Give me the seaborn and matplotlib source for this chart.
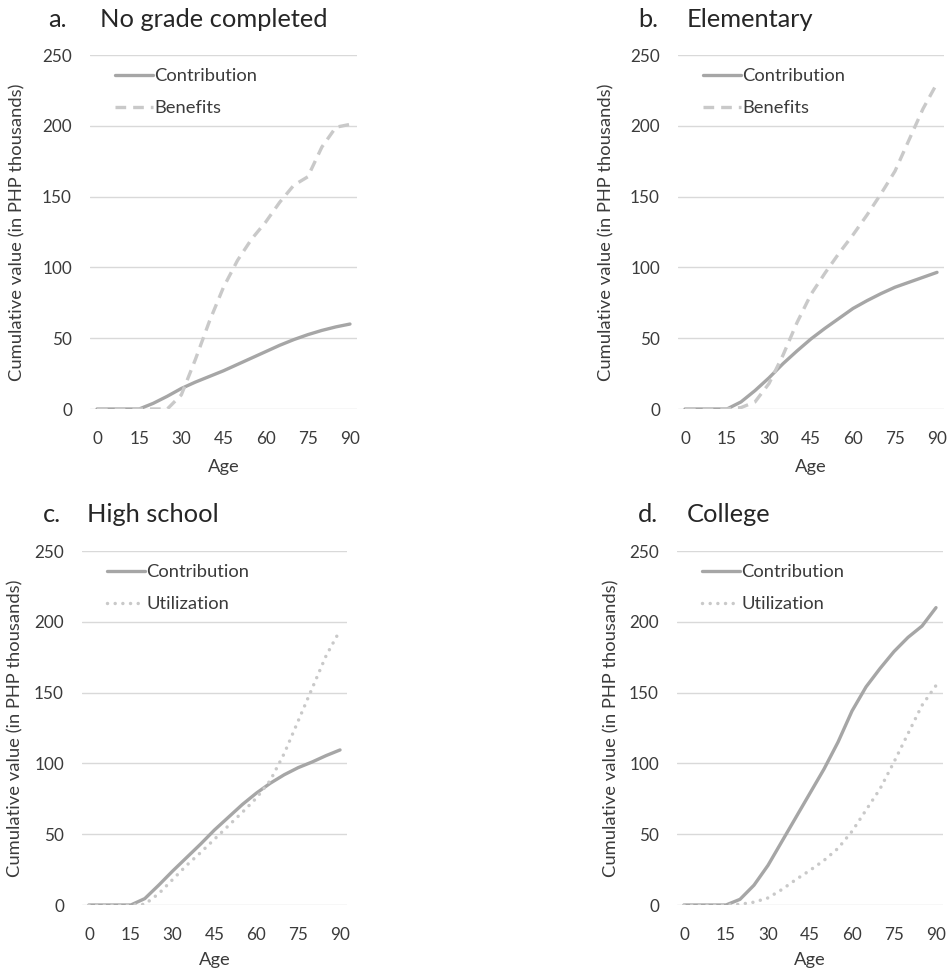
import matplotlib
matplotlib.use("Agg")
import matplotlib.pyplot as plt
import seaborn as sns
import pandas as pd

# Ages (years), one point every 5 years
ages = [0, 5, 10, 15, 20, 25, 30, 35, 40, 45, 50, 55, 60, 65, 70, 75, 80, 85, 90]
age_ticks = [0, 15, 30, 45, 60, 75, 90]
value_ticks = [0, 50, 100, 150, 200, 250]

# Cumulative values in PHP thousands
none_contribution = [0, 0, 0, 0, 4, 9, 14.5, 19, 23, 27, 31.5, 36, 40.5, 45, 49, 52.5, 55.5, 58, 60]
none_benefits = [0, 0, 0, 0, 0, 0, 10, 35, 62, 86, 105, 120, 132, 146, 158, 164, 185, 199, 201]

elem_contribution = [0, 0, 0, 0, 5, 13, 22, 32, 41, 49.5, 57, 64, 71, 76.5, 81.5, 86, 89.5, 93, 96.5]
elem_benefits = [0, 0, 0, 0, 1, 5, 18, 38, 61, 81, 96, 110, 123, 137, 152, 168, 190, 212, 230]

hs_contribution = [0, 0, 0, 0, 4.5, 14, 24, 33.5, 43, 53, 62, 71, 79, 86, 92, 97, 101, 105.5, 109.5]
hs_utilization = [0, 0, 0, 0, 0.5, 8, 18, 28, 37, 46.5, 56, 65.5, 75.5, 88, 107, 130, 153, 176, 194]

col_contribution = [0, 0, 0, 0, 4, 14, 28, 45, 62, 79, 96, 115, 137, 154, 167, 179, 189, 197, 210]
col_utilization = [0, 0, 0, 0, 0.5, 2, 5, 11, 18, 24.5, 31.5, 40, 52, 67, 82, 101, 121, 141, 155]

panel_letters = ["a.", "b.", "c.", "d."]
panel_titles = ["No grade completed", "Elementary", "High school", "College"]
series_names = [("Contribution", "Benefits"), ("Contribution", "Benefits"),
                ("Contribution", "Utilization"), ("Contribution", "Utilization")]
series_values = [(none_contribution, none_benefits), (elem_contribution, elem_benefits),
                 (hs_contribution, hs_utilization), (col_contribution, col_utilization)]

sns.set_style("white")
plt.rcParams["font.family"] = ["Lato", "DejaVu Sans"]

W, H = 950, 973
fig = plt.figure(figsize=(W / 100, H / 100), dpi=100)

# axes boxes in pixels: left, top, width, height
boxes = [(90, 55, 267, 354), (678, 55, 266, 354), (82, 551, 265, 354), (677, 551, 266, 354)]
ylabel_x = [-0.273, -0.27, -0.253, -0.245]
xlabel_y = [-0.164, -0.163, -0.155, -0.155]
letter_pos = [(48, 27), (638, 27), (43, 522), (638, 522)]
title_pos = [(100, 27), (687, 27), (87, 522), (687, 522)]

solid_color = "#a6a6a6"
light_color = "#c9c9c9"
text_color = "#3b3b3b"
tick_size = 12.3
label_size = 13.2
title_size = 18.3

for i in range(4):
    l, t, w, h = boxes[i]
    ax = fig.add_axes([l / W, 1 - (t + h) / H, w / W, h / H])
    name_a, name_b = series_names[i]
    vals_a, vals_b = series_values[i]
    df = pd.DataFrame({"Age": ages, name_a: vals_a, name_b: vals_b})

    sns.lineplot(data=df, x="Age", y=name_a, ax=ax, color=solid_color,
                 linewidth=2.4, label=name_a, solid_capstyle="round")
    if name_b == "Benefits":
        sns.lineplot(data=df, x="Age", y=name_b, ax=ax, color=light_color,
                     linewidth=2.4, linestyle=(0, (3.2, 2.1)), label=name_b,
                     dash_capstyle="butt")
    else:
        sns.lineplot(data=df, x="Age", y=name_b, ax=ax, color=light_color,
                     linewidth=2.5, linestyle=(0, (0.01, 2.2)), label=name_b,
                     dash_capstyle="round")

    ax.set_xlim(-2.5, 92.5)
    ax.set_ylim(0, 250)
    ax.set_xticks(age_ticks)
    ax.set_yticks(value_ticks)
    ax.tick_params(axis="both", length=0, labelsize=tick_size, colors=text_color)
    ax.tick_params(axis="y", pad=13)
    ax.tick_params(axis="x", pad=16)
    ax.grid(axis="y", color="#d9d9d9", linewidth=1)
    ax.set_axisbelow(True)
    for s in ax.spines.values():
        s.set_visible(False)

    ax.set_ylabel("Cumulative value (in PHP thousands)", fontsize=label_size,
                  color=text_color, va="center")
    ax.yaxis.set_label_coords(ylabel_x[i], 0.5)
    ax.set_xlabel("Age", fontsize=label_size, color=text_color, va="center")
    ax.xaxis.set_label_coords(0.5, xlabel_y[i])

    leg = ax.legend(loc="upper left", bbox_to_anchor=(0.093, 0.962), frameon=False,
                    fontsize=label_size, handlelength=2.1, handletextpad=0.05,
                    borderpad=0, borderaxespad=0, labelspacing=0.85)
    for txt in leg.get_texts():
        txt.set_color(text_color)

    lx, ly = letter_pos[i]
    fig.text(lx / W, 1 - ly / H, panel_letters[i], fontsize=title_size, color="#262626",
             ha="left", va="baseline")
    tx, ty = title_pos[i]
    fig.text(tx / W, 1 - ty / H, panel_titles[i], fontsize=title_size, color="#262626",
             ha="left", va="baseline")

fig.savefig("out.png", dpi=100, facecolor="white")
